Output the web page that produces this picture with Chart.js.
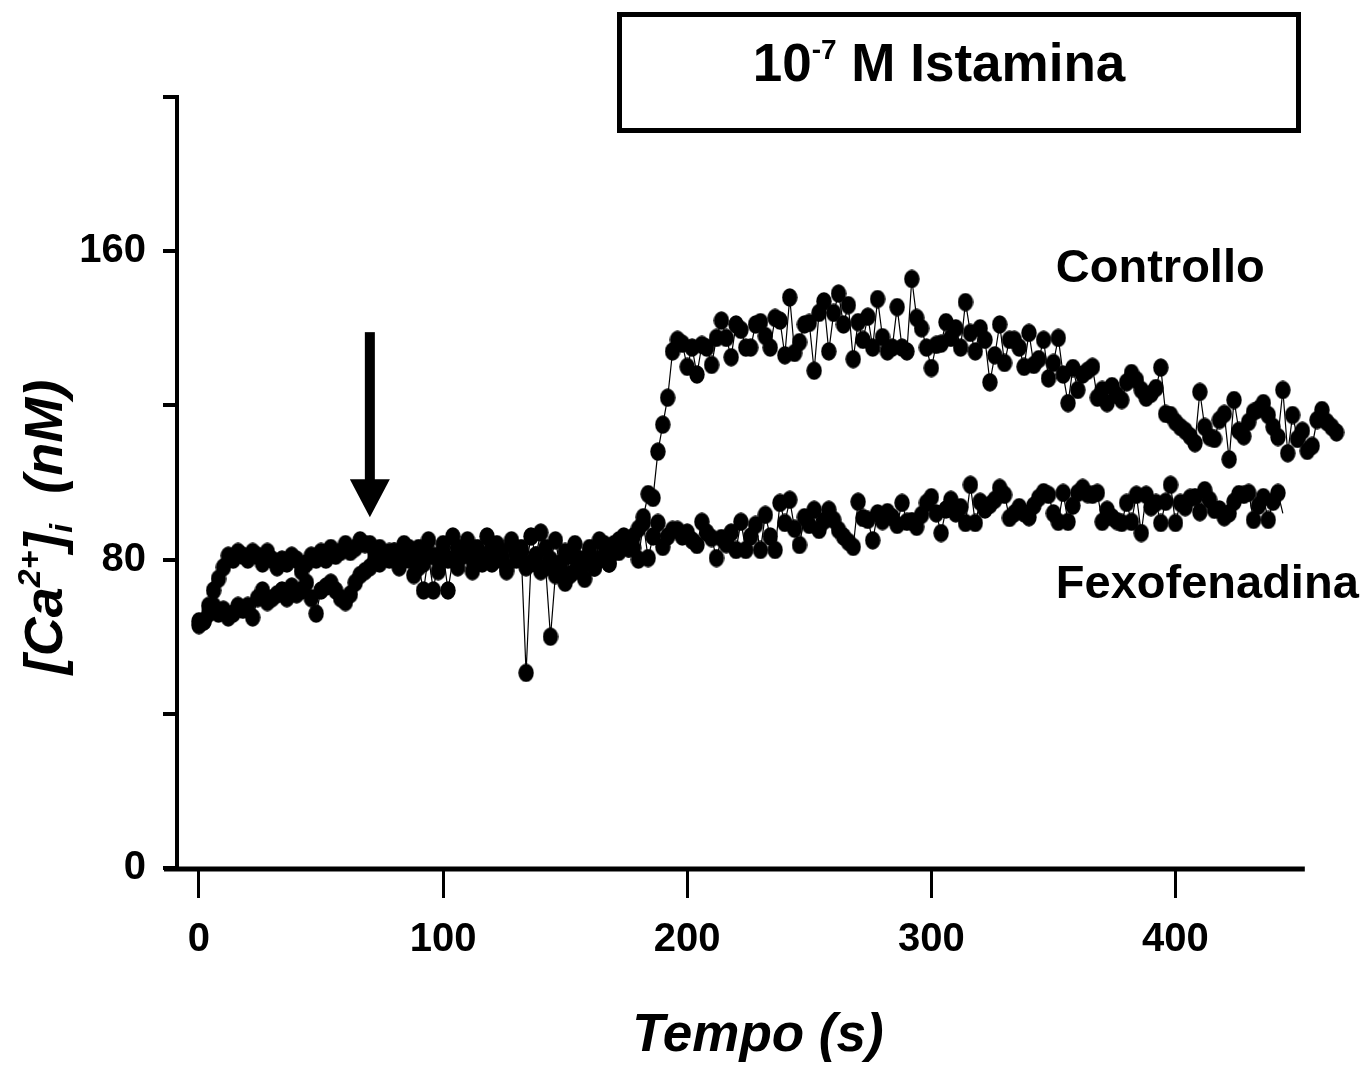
<!DOCTYPE html>
<html>
<head>
<meta charset="utf-8">
<script src="https://cdn.jsdelivr.net/npm/chart.js@4.4.1/dist/chart.umd.min.js"></script>
<style>
  html, body { margin: 0; padding: 0; background: #fff; }
  #wrap { width: 1368px; height: 1070px; }
</style>
</head>
<body>
<div id="wrap"><canvas id="chart" width="1368" height="1070"></canvas></div>
<script>
const FONT = '"Liberation Sans", Arial, Helvetica, sans-serif';

// one sample every 2 s
const sampleInterval = 2;

// [Ca2+]i (nM)
const controlloValues = [
  63, 64, 68, 72, 75, 78, 81, 80, 82, 81,
  80, 82, 81, 79, 82, 80, 78, 80, 79, 81,
  80, 77, 79, 81, 80, 82, 80, 83, 81, 82,
  84, 82, 83, 85, 84, 84, 82, 83, 81, 82,
  82, 78, 84, 80, 76, 83, 79, 85, 81, 77,
  84, 80, 86, 78, 82, 85, 77, 83, 80, 86,
  79, 84, 81, 77, 85, 80, 83, 78, 86, 81,
  77, 83, 80, 85, 78, 82, 76, 84, 80, 79,
  83, 78, 85, 81, 79, 84, 82, 86, 83, 86,
  88, 91, 97, 96, 108, 115, 122, 134, 137, 136,
  130, 135, 128, 135.7, 135, 130.5, 137.5, 142, 137.5, 132.5,
  141, 139.6, 135, 135, 141, 141.6, 138, 135, 142.7, 142,
  133, 148, 133.6, 136.4, 141, 141.4, 129, 144, 147, 134,
  144, 149, 141, 146, 132, 141.6, 137, 143, 135, 147.6,
  137.7, 134, 135, 145.5, 135, 134, 152.8, 142.7, 140, 135,
  129.7, 135.7, 136, 141.6, 137.5, 140, 135, 146.8, 138.8, 134,
  140, 137, 126, 133, 141, 131, 137, 137, 135, 130,
  138.8, 130.5, 132, 137, 127, 131, 137.5, 128, 120.6, 129.7,
  124, 128, 129, 130, 122, 124, 120.6, 125, 122.7, 121.4,
  126, 128.4, 126.6, 124, 122, 123, 124.5, 129.8, 117.8, 117.5,
  115.7, 114.4, 113.4, 112, 110.2, 123.5, 114.4, 111.8, 111.3, 116.2,
  117.8, 106, 121.4, 113.4, 112, 115.7, 118.3, 119, 120.6, 117.5,
  114.4, 111.8, 124, 107.6, 117.5, 111.3, 113.4, 108.2, 109.5, 116.2,
  118.8, 115.7, 114.4, 113
];

const fexofenadinaValues = [
  64, 64, 66, 68, 66, 67, 65, 66, 68, 67,
  68, 65, 70, 72, 69, 70, 71, 72, 70, 73,
  71, 72, 74, 70, 66, 72, 73, 74, 72, 70,
  69, 71, 74, 76, 77, 78, 80, 79, 81, 80,
  82, 79, 81, 83, 80, 78, 72, 81, 72, 80,
  82, 72, 80, 83, 81, 84, 80, 82, 79, 81,
  83, 80, 82, 78, 84, 81, 82, 50.6, 79, 81,
  87, 78, 60, 76, 79, 74, 81, 77, 80, 75,
  82, 78, 80, 84, 79, 82, 85, 85, 83, 83,
  80, 89.5, 80.4, 86, 89.5, 83.3, 86, 87.7, 87.7, 86,
  87, 85, 83.8, 89.8, 87, 85.6, 80.4, 85.6, 84, 87,
  82.5, 89.8, 82.5, 86, 89, 82.5, 91.6, 86, 82.5, 94.7,
  89.5, 95.5, 88, 83.8, 91, 89, 92.9, 87.7, 90, 92.9,
  90.3, 87.7, 86, 84.6, 83.3, 95, 90.8, 90.3, 85, 92,
  90, 92.3, 91, 89, 94.7, 89.8, 90, 88.5, 91.6, 94.7,
  96.2, 92, 86.9, 93, 95.5, 92, 93.6, 89.5, 99.4, 89.5,
  95, 93, 94.2, 95.5, 98.6, 96.8, 90.8, 92, 93.6, 92,
  91, 94, 96, 97.5, 96.8, 92, 89.8, 97.3, 89.8, 94,
  97.3, 98.6, 97, 96.8, 97.3, 89.8, 92.9, 91, 90, 89.5,
  94.7, 89.8, 96.8, 86.9, 96.8, 93.6, 94.7, 89.5, 95, 99.4,
  89.5, 94.7, 93.6, 96, 96.2, 92.3, 98, 95.5, 92.9, 93,
  91, 92, 95, 97, 96.8, 97.3, 90.3, 94, 96.2, 90.3,
  95, 97.3, 92
];

const seriesNames = ['Controllo', 'Fexofenadina'];
const xTickValues = [0, 100, 200, 300, 400];
const yTickValues = [0, 40, 80, 120, 160, 200];
const yTickLabels = ['0', '', '80', '', '160', ''];
const xTitle = 'Tempo (s)';
const boxTitle = ['10', '-7', ' M Istamina'];

// filled ellipse used as marker (the scan makes the dots a bit taller than wide)
function makeDot(w, h) {
  const c = document.createElement('canvas');
  c.width = w;
  c.height = h;
  const g = c.getContext('2d');
  g.fillStyle = '#000';
  g.beginPath();
  g.ellipse(w / 2, h / 2, w / 2 - 0.3, h / 2 - 0.3, 0, 0, Math.PI * 2);
  g.fill();
  return c;
}
const dot = makeDot(16, 19);

const toPoints = vals => vals.map((v, i) => ({ x: i * sampleInterval, y: v }));

function drawRuns(ctx, runs, x0, yBase) {
  let cx = x0;
  runs.forEach(r => {
    ctx.font = `${r.style || ''} bold ${r.size}px ${FONT}`;
    ctx.fillText(r.text, cx, yBase + (r.dy || 0));
    cx += ctx.measureText(r.text).width;
  });
}
function runsWidth(ctx, runs) {
  let w = 0;
  runs.forEach(r => {
    ctx.font = `${r.style || ''} bold ${r.size}px ${FONT}`;
    w += ctx.measureText(r.text).width;
  });
  return w;
}

const annotations = {
  id: 'annotations',
  afterDraw(chart) {
    const { ctx, chartArea, scales: { x, y } } = chart;
    ctx.save();
    ctx.fillStyle = '#000';
    ctx.strokeStyle = '#000';

    // x axis line: starts just left of the y axis, stops at 453 s
    ctx.lineWidth = 5;
    ctx.beginPath();
    ctx.moveTo(chartArea.left - 13, chartArea.bottom + 1);
    ctx.lineTo(x.getPixelForValue(453), chartArea.bottom + 1);
    ctx.stroke();

    // arrow marking the histamine addition
    const ax = x.getPixelForValue(70);
    const aTop = y.getPixelForValue(139);
    const aTip = y.getPixelForValue(91);
    ctx.fillRect(ax - 5, aTop, 10, aTip - aTop - 34);
    ctx.beginPath();
    ctx.moveTo(ax - 20, aTip - 38);
    ctx.lineTo(ax + 20, aTip - 38);
    ctx.lineTo(ax, aTip);
    ctx.closePath();
    ctx.fill();

    // series labels
    ctx.textBaseline = 'middle';
    ctx.textAlign = 'left';
    ctx.font = `bold 47px ${FONT}`;
    ctx.fillText(seriesNames[0], x.getPixelForValue(351), y.getPixelForValue(155.5));
    ctx.fillText(seriesNames[1], x.getPixelForValue(351), y.getPixelForValue(73.5));

    // boxed title
    ctx.lineWidth = 5;
    ctx.strokeRect(619.5, 14.5, 679, 116);
    ctx.textBaseline = 'alphabetic';
    const titleRuns = [
      { text: boxTitle[0], size: 53 },
      { text: boxTitle[1], size: 28, dy: -22 },
      { text: boxTitle[2], size: 53 }
    ];
    const tw = runsWidth(ctx, titleRuns);
    drawRuns(ctx, titleRuns, 939 - tw / 2, 81);

    // y axis title, rotated
    ctx.save();
    ctx.translate(43, 527);
    ctx.rotate(-Math.PI / 2);
    const yRuns = [
      { text: '[Ca', size: 54, style: 'italic' },
      { text: '2+', size: 32, style: 'italic', dy: -22 },
      { text: ']', size: 54, style: 'italic' },
      { text: 'i', size: 32, style: 'italic', dy: 10 },
      { text: '  (nM)', size: 54, style: 'italic' }
    ];
    const yw = runsWidth(ctx, yRuns);
    drawRuns(ctx, yRuns, -yw / 2, 19);
    ctx.restore();

    ctx.restore();
  }
};

const tickFont = { family: FONT, size: 40, weight: 'bold' };

new Chart(document.getElementById('chart'), {
  type: 'line',
  data: {
    datasets: [
      {
        label: seriesNames[0],
        data: toPoints(controlloValues),
        borderColor: '#000',
        borderWidth: 1.2,
        backgroundColor: '#000',
        pointStyle: dot,
        pointRadius: 8,
        tension: 0,
        clip: false
      },
      {
        label: seriesNames[1],
        data: toPoints(fexofenadinaValues),
        borderColor: '#000',
        borderWidth: 1.2,
        backgroundColor: '#000',
        pointStyle: dot,
        // the trace ends on a bare line segment
        pointRadius: c => (c.dataIndex === fexofenadinaValues.length - 1 ? 0 : 8),
        tension: 0,
        clip: false
      }
    ]
  },
  options: {
    responsive: false,
    animation: false,
    layout: { padding: { top: 97, right: 29, left: 0, bottom: 0 } },
    plugins: {
      legend: { display: false },
      tooltip: { enabled: false }
    },
    scales: {
      x: {
        type: 'linear',
        min: -9,
        max: 467,
        afterBuildTicks: s => { s.ticks = xTickValues.map(v => ({ value: v })); },
        afterFit: s => { s.height = 202; },
        border: { display: false },
        grid: { drawOnChartArea: false, drawTicks: true, tickLength: 30, lineWidth: 3, color: '#000' },
        ticks: { font: tickFont, color: '#000', padding: 18, maxRotation: 0, autoSkip: false },
        title: {
          display: true,
          text: xTitle,
          color: '#000',
          font: { family: FONT, size: 53, weight: 'bold', style: 'italic' },
          padding: { top: 0, bottom: 2 }
        }
      },
      y: {
        min: 0,
        max: 200,
        afterBuildTicks: s => { s.ticks = yTickValues.map(v => ({ value: v })); },
        afterFit: s => { s.width = 177; },
        border: { display: true, width: 4, color: '#000' },
        grid: { drawOnChartArea: false, drawTicks: true, tickLength: 14, lineWidth: 4, color: '#000' },
        ticks: {
          font: tickFont,
          color: '#000',
          padding: 17,
          callback: (v, i) => yTickLabels[i]
        }
      }
    }
  },
  plugins: [annotations]
});
</script>
</body>
</html>
